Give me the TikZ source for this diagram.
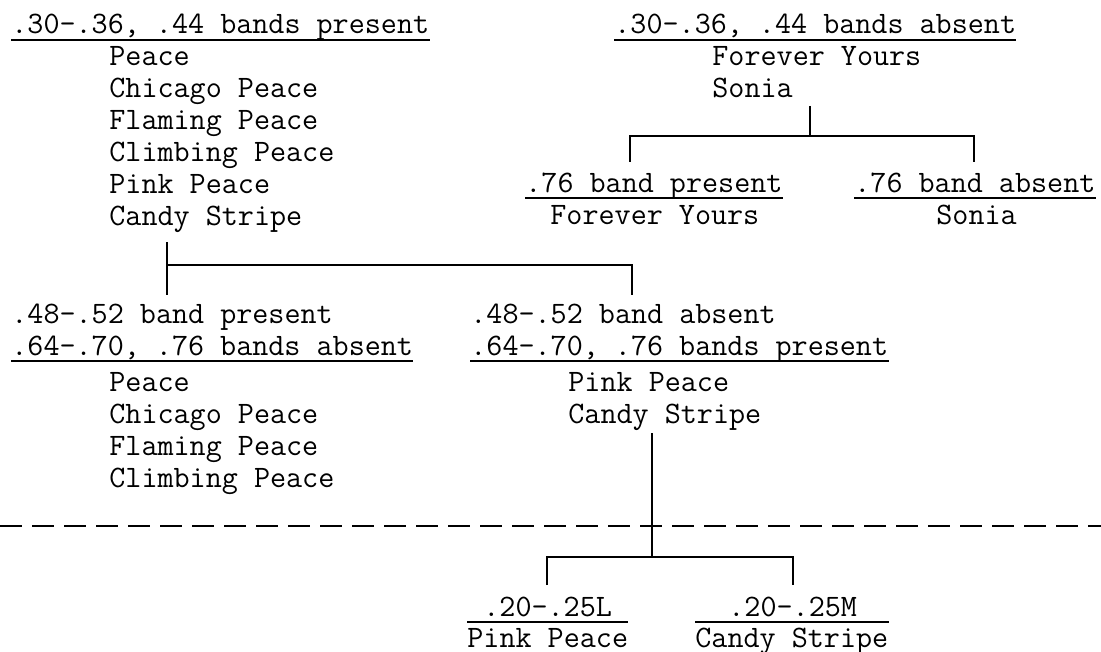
\documentclass[tikz,border=0pt]{standalone}
\usepackage{fontspec}
\begin{document}
\begin{tikzpicture}[x=0.5pt,y=-0.5pt,
		txt/.style={anchor=base west,inner sep=0pt,font=\fontsize{15.6}{19}\selectfont\ttfamily},
		link/.style={line width=0.8pt},
		uline/.style={line width=0.8pt}]
		\useasboundingbox (0,0) rectangle (1101,652);

		\node[txt] (hdrP) at (11,34) {.30-.36, .44 bands present};
		\node[txt] (peaceA) at (109,66) {Peace};
		\node[txt] (chicagoA) at (109,98) {Chicago Peace};
		\node[txt] (flamingA) at (109,130) {Flaming Peace};
		\node[txt] (climbingA) at (109,162) {Climbing Peace};
		\node[txt] (pinkA) at (109,194) {Pink Peace};
		\node[txt] (candyA) at (109,226) {Candy Stripe};

		\node[txt] (hdrA) at (614,34) {.30-.36, .44 bands absent};
		\node[txt] (foreverA) at (712,66) {Forever Yours};
		\node[txt] (soniaA) at (712,98) {Sonia};
		\node[txt] (pres76) at (525,192) {.76 band present};
		\node[txt] (foreverB) at (550,224) {Forever Yours};
		\node[txt] (abs76) at (854,192) {.76 band absent};
		\node[txt] (soniaB) at (936,224) {Sonia};

		\node[txt] (pres48) at (11,323) {.48-.52 band present};
		\node[txt] (abs64) at (11,355) {.64-.70, .76 bands absent};
		\node[txt] (peaceB) at (109,391) {Peace};
		\node[txt] (chicagoB) at (109,423) {Chicago Peace};
		\node[txt] (flamingB) at (109,455) {Flaming Peace};
		\node[txt] (climbingB) at (109,487) {Climbing Peace};

		\node[txt] (abs48) at (470,323) {.48-.52 band absent};
		\node[txt] (pres64) at (470,355) {.64-.70, .76 bands present};
		\node[txt] (pinkB) at (568,391) {Pink Peace};
		\node[txt] (candyB) at (568,423) {Candy Stripe};

		\node[txt] (lowL) at (483,616) {.20-.25L};
		\node[txt] (pinkC) at (467,647) {Pink Peace};
		\node[txt] (lowM) at (728,616) {.20-.25M};
		\node[txt] (candyC) at (695,647) {Candy Stripe};

		\coordinate (upA) at (167,242);
		\coordinate (dnA) at (167,295);
		\coordinate (jA) at (167,265);
		\coordinate (jB) at (632,265);
		\coordinate (dnB) at (632,295);

		\coordinate (upT) at (810,106);
		\coordinate (jT) at (810,136);
		\coordinate (jTl) at (630,136);
		\coordinate (jTr) at (974,136);
		\coordinate (dnTl) at (630,162);
		\coordinate (dnTr) at (974,162);

		\coordinate (upC) at (652,433);
		\coordinate (jC) at (652,557);
		\coordinate (jCl) at (547,557);
		\coordinate (jCr) at (793,557);
		\coordinate (dnCl) at (547,585);
		\coordinate (dnCr) at (793,585);

		\coordinate (cutL) at (0,526);
		\coordinate (cutR) at (1101,526);

		\draw[link] (upA) -- (dnA);
		\draw[link] (jA) -- (jB) -- (dnB);
		\draw[link] (upT) -- (jT);
		\draw[link] (dnTl) -- (jTl) -- (jTr) -- (dnTr);
		\draw[link] (upC) -- (jC);
		\draw[link] (dnCl) -- (jCl) -- (jCr) -- (dnCr);
		\draw[link,dash pattern=on 11pt off 5pt] (cutL) -- (cutR);

		\draw[uline] ([yshift=-3pt]hdrP.base west) -- ([yshift=-3pt]hdrP.base east);
		\draw[uline] ([yshift=-3pt]hdrA.base west) -- ([yshift=-3pt]hdrA.base east);
		\draw[uline] ([yshift=-3pt]pres76.base west) -- ([yshift=-3pt]pres76.base east);
		\draw[uline] ([yshift=-3pt]abs76.base west) -- ([yshift=-3pt]abs76.base east);
		\draw[uline] ([yshift=-3pt]abs64.base west) -- ([yshift=-3pt]abs64.base east);
		\draw[uline] ([yshift=-3pt]pres64.base west) -- ([yshift=-3pt]pres64.base east);
		\coordinate (ulL) at ([yshift=-3pt]lowL.base);
		\coordinate (ulM) at ([yshift=-3pt]lowM.base);
		\draw[uline] (ulL -| pinkC.west) -- (ulL -| pinkC.east);
		\draw[uline] (ulM -| candyC.west) -- (ulM -| candyC.east);
	\end{tikzpicture}
\end{document}
